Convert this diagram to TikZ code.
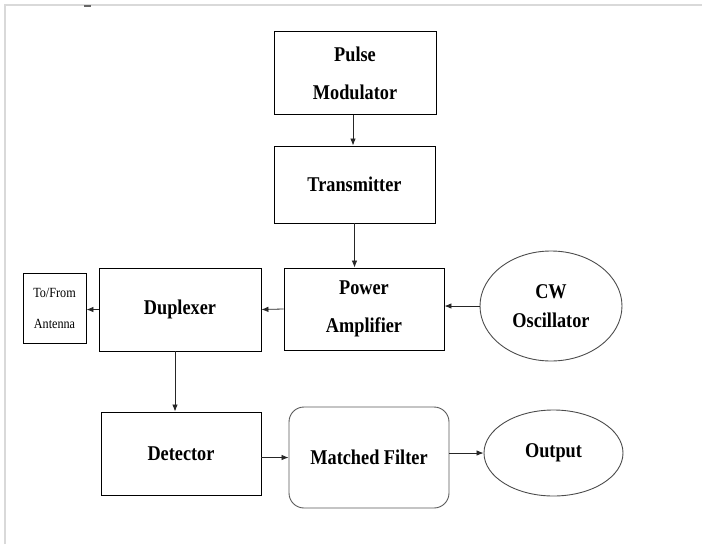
\documentclass[tikz,border=0pt]{standalone}
\usepackage{fontspec}
\setmainfont{Liberation Serif}
\usepackage{graphicx}
\usepackage{tikz}
\usetikzlibrary{shapes.geometric, arrows.meta}

\newcommand{\sqz}[1]{\scalebox{0.87}[1]{#1}}

\begin{document}
\begin{tikzpicture}[x=1pt, y=-1pt,
  blockbox/.style={draw, line width=0.9pt, inner sep=0pt, align=center,
    font=\bfseries\fontsize{21}{38}\selectfont},
  roundbox/.style={blockbox, draw=black!65, rounded corners=15pt},
  ovalbox/.style={blockbox, draw=black!70, ellipse},
  smallbox/.style={draw, line width=0.9pt, inner sep=0pt, align=center,
    font=\fontsize{14}{31}\selectfont},
  arr/.style={line width=0.8pt, draw=black!85, -{Latex[length=7pt,width=5.5pt]}}]

  \useasboundingbox (0,0) rectangle (702,544);

  % page edge
  \draw[black!15, line width=1.2pt] (5,544) -- (5,5) -- (702,5);
  \draw[black!60, line width=1.2pt] (84,6) -- (91,6);

  \node[blockbox, minimum width=162, minimum height=83] (mod) at (355,73) {\sqz{Pulse}\\\sqz{Modulator}};
  \node[blockbox, minimum width=161, minimum height=77] (tx) at (354.5,184.5) {\sqz{Transmitter}};
  \node[blockbox, minimum width=160, minimum height=82] (pa) at (364,309) {\sqz{Power}\\\sqz{Amplifier}};
  \node[ovalbox, minimum width=142, minimum height=110,
    font=\bfseries\fontsize{21}{29}\selectfont] (cw) at (551,306) {\sqz{CW}\\\sqz{Oscillator}};
  \node[blockbox, minimum width=162, minimum height=83] (dup) at (180,309.5) {\sqz{Duplexer}};
  \node[smallbox, minimum width=63, minimum height=70] (ant) at (54.5,308) {\sqz{To/From}\\\sqz{Antenna}};
  \node[blockbox, minimum width=160, minimum height=83] (det) at (181,453.5) {\sqz{Detector}};
  \node[roundbox, minimum width=160, minimum height=101] (mf) at (369,457.5) {\sqz{Matched Filter}};
  \node[ovalbox, minimum width=139, minimum height=86] (out) at (553.5,453) {\sqz{Output}};

  \draw[arr] ([xshift=-2pt]mod.south) -- ([xshift=-2pt]mod.south |- tx.north);
  \draw[arr] (tx.south) -- (tx.south |- pa.north);
  \draw[arr] (cw.west) -- (cw.west -| pa.east);
  \draw[arr] (pa.west) -- (dup.east);
  \draw[arr] (dup.west) -- (dup.west -| ant.east);
  \draw[arr] ([xshift=-5pt]dup.south) -- ([xshift=-5pt]dup.south |- det.north);
  \draw[arr] (mf.west -| det.east) -- (mf.west);
  \draw[arr] (mf.east |- out.west) -- (out.west);

\end{tikzpicture}
\end{document}
